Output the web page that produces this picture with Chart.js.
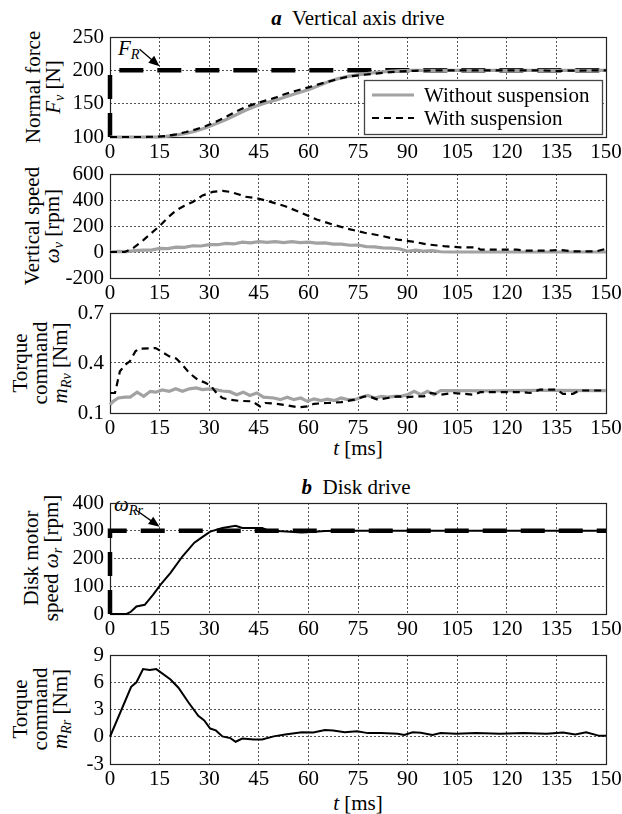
<!DOCTYPE html>
<html>
<head>
<meta charset="utf-8">
<script src="https://cdn.jsdelivr.net/npm/chart.js@4.4.1/dist/chart.umd.min.js"></script>
<style>
  body { margin: 0; background: #fff; }
  #fig { position: relative; width: 622px; height: 814px; font-family: 'Liberation Serif', 'Times New Roman', serif; color: #000; }
  #fig canvas { position: absolute; left: 0; }
  .lbl { position: absolute; white-space: nowrap; font-size: 21px; line-height: 1; transform: translate(-50%, -50%); }
  .tag { position: absolute; white-space: nowrap; font-size: 21px; line-height: 1; transform: translateY(-50%); font-style: italic; }
  .ylab { position: absolute; white-space: nowrap; font-size: 21px; line-height: 20px; text-align: center; transform: translate(-50%, -50%) rotate(-90deg); }
  sub { font-size: 68%; vertical-align: baseline; position: relative; top: 0.3em; }
</style>
</head>
<body>
<div id="fig">
  <div class="lbl" style="left:358px;top:18px"><b><i>a</i></b>&nbsp; Vertical axis drive</div>
  <div class="lbl" style="left:356px;top:487px"><b><i>b</i></b>&nbsp; Disk drive</div>
  <div class="lbl" style="left:358px;top:448px"><i>t</i> [ms]</div>
  <div class="lbl" style="left:358px;top:803px"><i>t</i> [ms]</div>

  <div class="ylab" style="left:44px;top:87px">Normal force<br><i>F<sub>v</sub></i> [N]</div>
  <div class="ylab" style="left:43px;top:226px">Vertical speed<br><i>ω<sub>v</sub></i> [rpm]</div>
  <div class="ylab" style="left:41px;top:363px">Torque<br>command<br><i>m<sub>Rv</sub></i> [Nm]</div>
  <div class="ylab" style="left:42px;top:558px">Disk motor<br>speed <i>ω<sub>r</sub></i> [rpm]</div>
  <div class="ylab" style="left:41px;top:709px">Torque<br>command<br><i>m<sub>Rr</sub></i> [Nm]</div>

  <div class="tag" style="left:118px;top:48px">F<sub>R</sub></div>
  <div class="tag" style="left:114px;top:504px">ω<sub>Rr</sub></div>
</div>

<script>
// ---- time axis ----
const tMin = 0, tMax = 150, tStep = 15;

// ---- a: normal force [N] ----
const forceRefT = [0, 0, 150];
const forceRef = [100, 200, 200];
const forceWithT = [0, 10, 14, 17, 20, 23, 26, 29, 32, 35, 38, 41, 44, 47, 50, 53, 56, 60, 63, 66, 69, 72, 76, 80, 84, 88, 92, 96, 100, 130, 135, 138, 150];
const forceWith = [100, 100, 100.5, 101.5, 104, 107.5, 111.5, 116.5, 123, 130, 138, 145, 150, 154.5, 159, 164.5, 169, 174.5, 179, 183, 187, 190.5, 193, 195, 197, 198.5, 199.3, 199.7, 200, 200, 199, 199.5, 200];
const forceWithoutT = [0, 14, 17, 20, 23, 26, 29, 32, 35, 38, 41, 44, 47, 50, 53, 56, 60, 63, 66, 69, 72, 76, 80, 84, 88, 92, 150];
const forceWithout = [100, 100, 101, 103, 105.5, 109, 114, 120, 126, 133, 140, 146, 151, 155, 160, 165, 171, 177, 183, 187.5, 191, 194, 196.5, 198.5, 199.5, 200, 200];

// ---- a: vertical speed [rpm] ----
const speedWithT = [0, 4.5, 7, 10, 12.5, 15, 17.5, 20, 22.5, 25, 28, 31, 34, 36.5, 39, 41, 44.5, 48, 53, 58, 62.5, 67.5, 72, 77, 82, 87, 91.5, 96, 101, 106, 111, 112, 118, 123, 126, 132, 136, 140, 147, 150];
const speedWith = [0, 0, 30, 90, 145, 200, 265, 320, 355, 385, 435, 462, 470, 462, 442, 425, 413, 390, 352, 300, 250, 210, 178, 148, 125, 95, 80, 58, 45, 36, 36, 18, 18, 18, 10, 10, 16, 5, 5, 25];
const speedWithoutT = [0, 2.5, 5, 7.5, 10, 12.5, 15, 17.5, 20, 22.5, 25, 27.5, 30, 32.5, 35, 37.5, 40, 42.5, 45, 47.5, 50, 52.5, 55, 57.5, 60, 62.5, 65, 67.5, 70, 72.5, 75, 77.5, 80, 82.5, 85, 87.5, 90, 92.5, 95, 97.5, 100, 103, 150];
const speedWithout = [0, 5, 3, 10, 15, 14, 28, 26, 38, 36, 48, 46, 56, 56, 66, 62, 76, 70, 80, 74, 80, 72, 80, 72, 76, 68, 70, 60, 60, 52, 54, 42, 40, 32, 30, 24, 6, 14, 6, 10, 2, 0, 0];

// ---- a: torque command [Nm] ----
const torqueVWithT = [0, 1.5, 3, 4.6, 6, 7.7, 8.7, 13.8, 15, 17.9, 20, 21.4, 24, 26.5, 29, 30.6, 32, 34, 36, 39, 43, 45.4, 47, 50.5, 53.6, 57, 59.7, 61.7, 65.8, 69.9, 74, 77, 79, 81, 84, 87, 90, 93, 95, 97, 100, 104, 107, 110, 112, 125, 127, 130, 135, 137, 140, 142, 150];
const torqueVWith = [0.22, 0.22, 0.35, 0.39, 0.41, 0.47, 0.486, 0.49, 0.476, 0.44, 0.427, 0.40, 0.34, 0.30, 0.28, 0.26, 0.225, 0.19, 0.18, 0.173, 0.17, 0.14, 0.16, 0.155, 0.146, 0.134, 0.14, 0.155, 0.16, 0.165, 0.18, 0.2, 0.195, 0.18, 0.19, 0.2, 0.195, 0.2, 0.2, 0.22, 0.21, 0.22, 0.215, 0.21, 0.225, 0.225, 0.22, 0.24, 0.24, 0.215, 0.215, 0.235, 0.235];
const torqueVWithoutT = [0, 1, 2.5, 4.6, 6.1, 8.2, 10.2, 12.2, 13.8, 15.8, 17.9, 19.9, 21.9, 24, 26, 28, 30.1, 32, 34, 36.2, 38.3, 40.3, 42.3, 44.4, 46.4, 49.5, 51.5, 53.6, 55.6, 57.7, 59.7, 61.7, 63.8, 65.8, 67.9, 69.9, 71.9, 74, 76, 78, 80, 82, 84, 86, 88, 90, 92, 94, 96, 98, 100, 115, 130, 150];
const torqueVWithout = [0.15, 0.17, 0.19, 0.195, 0.195, 0.225, 0.2, 0.23, 0.225, 0.238, 0.23, 0.245, 0.23, 0.245, 0.25, 0.24, 0.245, 0.24, 0.232, 0.228, 0.21, 0.225, 0.205, 0.22, 0.195, 0.19, 0.18, 0.195, 0.18, 0.19, 0.17, 0.185, 0.175, 0.183, 0.175, 0.19, 0.18, 0.18, 0.195, 0.205, 0.19, 0.2, 0.195, 0.2, 0.2, 0.21, 0.23, 0.21, 0.23, 0.21, 0.235, 0.233, 0.236, 0.234];

// ---- b: disk motor speed [rpm] ----
const diskRefT = [0, 0, 150];
const diskRef = [0, 300, 300];
const diskSpeedT = [0, 5, 6.3, 8, 10.5, 13, 15.3, 18.3, 22, 25.5, 28, 30.3, 34, 38, 40, 46, 48, 52, 58, 62, 65, 70, 150];
const diskSpeed = [0, 0, 8, 27, 33, 69, 106, 148, 209, 257, 278, 297, 310, 318, 310, 310, 300, 298, 294, 296, 299, 300, 300];

// ---- b: torque command [Nm] ----
const torqueRT = [0, 6.4, 8, 10, 12, 14, 18.3, 20.7, 23.7, 26.7, 28.5, 30.3, 32, 34, 36.4, 38, 40, 43.5, 46, 49.5, 53, 58, 61.5, 65, 67.5, 71, 74.7, 78, 82, 87, 89, 91.5, 94, 97.5, 100, 104.7, 110.7, 118, 125, 132, 137, 140.7, 144, 148, 150];
const torqueR = [0, 5.5, 6.0, 7.45, 7.35, 7.45, 6.3, 5.4, 3.8, 2.3, 1.8, 0.9, 0.7, 0.04, -0.15, -0.55, -0.2, -0.3, -0.3, 0.04, 0.25, 0.5, 0.47, 0.75, 0.7, 0.5, 0.6, 0.4, 0.4, 0.33, 0.2, 0.5, 0.45, 0.2, 0.4, 0.33, 0.4, 0.33, 0.4, 0.33, 0.47, 0.25, 0.5, 0.1, 0.1];

const legendLabels = ['Without suspension', 'With suspension'];

const FONT = '"Liberation Serif", "Times New Roman", serif';
const GRAY = '#a2a2a2';

function pts(t, v) {
  return t.map((x, i) => ({ x, y: v[i] }));
}

function dashed(t, v) {
  return { data: pts(t, v), borderColor: '#000', borderWidth: 2.2, borderDash: [7, 5] };
}
function solidGray(t, v) {
  return { data: pts(t, v), borderColor: GRAY, borderWidth: 3.2 };
}
function solidBlack(t, v) {
  return { data: pts(t, v), borderColor: '#000', borderWidth: 2 };
}
function reference(t, v) {
  return { data: pts(t, v), borderColor: '#000', borderWidth: 4.5, borderDash: [24, 14] };
}

// box round the plot area
const frame = {
  id: 'frame',
  beforeDatasetsDraw(chart) {
    const a = chart.chartArea, ctx = chart.ctx;
    ctx.save();
    ctx.strokeStyle = '#222';
    ctx.lineWidth = 1.2;
    ctx.strokeRect(Math.round(a.left) + 0.5, Math.round(a.top) + 0.5,
      Math.round(a.right - a.left), Math.round(a.bottom - a.top));
    ctx.restore();
  }
};

// arrow pointing at the reference line
const pointer = {
  id: 'pointer',
  afterDatasetsDraw(chart, args, opts) {
    if (!opts || opts.x === undefined) return;
    const { x: xs, y: ys } = chart.scales;
    const tx = xs.getPixelForValue(opts.x), ty = ys.getPixelForValue(opts.y) - 4;
    const sx = tx - opts.dx, sy = ty - opts.dy;
    const ang = Math.atan2(ty - sy, tx - sx);
    const ctx = chart.ctx;
    ctx.save();
    ctx.strokeStyle = '#000';
    ctx.fillStyle = '#000';
    ctx.lineWidth = 1.3;
    ctx.beginPath();
    ctx.moveTo(sx, sy);
    ctx.lineTo(tx - 8 * Math.cos(ang), ty - 8 * Math.sin(ang));
    ctx.stroke();
    ctx.beginPath();
    ctx.moveTo(tx, ty);
    ctx.lineTo(tx - 11 * Math.cos(ang) + 4.5 * Math.sin(ang), ty - 11 * Math.sin(ang) - 4.5 * Math.cos(ang));
    ctx.lineTo(tx - 11 * Math.cos(ang) - 4.5 * Math.sin(ang), ty - 11 * Math.sin(ang) + 4.5 * Math.cos(ang));
    ctx.closePath();
    ctx.fill();
    ctx.restore();
  }
};

// boxed legend in the lower right corner of the plot
const boxLegend = {
  id: 'boxLegend',
  afterDatasetsDraw(chart, args, opts) {
    if (!opts || !opts.show) return;
    const a = chart.chartArea, ctx = chart.ctx;
    const w = 238, h = 54;
    const left = a.right - 4 - w, top = a.bottom - 3 - h;
    ctx.save();
    ctx.fillStyle = '#fff';
    ctx.fillRect(left, top, w, h);
    ctx.strokeStyle = '#444';
    ctx.lineWidth = 1.3;
    ctx.strokeRect(Math.round(left) + 0.5, Math.round(top) + 0.5, w, h);
    const rows = [
      { y: top + 15, color: GRAY, width: 3.2, dash: [] },
      { y: top + 38, color: '#000', width: 2.2, dash: [7, 5] }
    ];
    ctx.font = '21px ' + FONT;
    ctx.textBaseline = 'middle';
    ctx.textAlign = 'left';
    rows.forEach((r, i) => {
      ctx.beginPath();
      ctx.setLineDash(r.dash);
      ctx.strokeStyle = r.color;
      ctx.lineWidth = r.width;
      ctx.moveTo(left + 8, r.y);
      ctx.lineTo(left + 50, r.y);
      ctx.stroke();
      ctx.setLineDash([]);
      ctx.fillStyle = '#000';
      ctx.fillText(legendLabels[i], left + 60, r.y + 1);
    });
    ctx.restore();
  }
};

function makePanel(cfg) {
  const padTop = 12, axisH = 32;
  const canvas = document.createElement('canvas');
  canvas.width = 622;
  canvas.height = padTop + cfg.plotH + axisH;
  canvas.style.top = (cfg.top - padTop) + 'px';
  document.getElementById('fig').appendChild(canvas);

  const tickFont = { family: FONT, size: 21 };
  const gridOpts = { color: '#555', lineWidth: 1, drawTicks: false };
  const borderOpts = { display: false, dash: [2, 2] };

  return new Chart(canvas.getContext('2d'), {
    type: 'line',
    data: { datasets: cfg.datasets.map(d => Object.assign({ pointRadius: 0, tension: 0, fill: false, clip: false }, d)) },
    options: {
      responsive: false,
      animation: false,
      devicePixelRatio: 1,
      events: [],
      layout: { autoPadding: false, padding: { top: padTop, right: 16, left: 0, bottom: 0 } },
      plugins: {
        legend: { display: false },
        tooltip: { enabled: false },
        pointer: cfg.pointer || {},
        boxLegend: { show: !!cfg.legend }
      },
      scales: {
        x: {
          type: 'linear', min: tMin, max: tMax,
          grid: gridOpts, border: borderOpts,
          ticks: { stepSize: tStep, autoSkip: false, maxRotation: 0, color: '#000', font: tickFont, padding: 3 },
          afterFit(s) { s.height = axisH; s.paddingLeft = 0; s.paddingRight = 0; }
        },
        y: {
          min: cfg.yMin, max: cfg.yMax,
          grid: gridOpts, border: borderOpts,
          ticks: {
            stepSize: cfg.yStep, autoSkip: false, color: '#000', font: tickFont, padding: 6,
            callback: v => cfg.decimals ? v.toFixed(cfg.decimals) : String(Math.round(v))
          },
          afterFit(s) { s.width = 110; s.paddingTop = 0; s.paddingBottom = 0; }
        }
      }
    },
    plugins: [frame, pointer, boxLegend]
  });
}

function drawAll() {
  makePanel({
    top: 37, plotH: 100, yMin: 100, yMax: 250, yStep: 50, legend: true,
    pointer: { x: 15, y: 200, dx: 20, dy: 17 },
    datasets: [dashed(forceWithT, forceWith), solidGray(forceWithoutT, forceWithout), reference(forceRefT, forceRef)]
  });
  makePanel({
    top: 174, plotH: 104, yMin: -200, yMax: 600, yStep: 200,
    datasets: [dashed(speedWithT, speedWith), solidGray(speedWithoutT, speedWithout)]
  });
  makePanel({
    top: 313, plotH: 100, yMin: 0.1, yMax: 0.7, yStep: 0.3, decimals: 1,
    datasets: [dashed(torqueVWithT, torqueVWith), solidGray(torqueVWithoutT, torqueVWithout)]
  });
  makePanel({
    top: 503, plotH: 111, yMin: 0, yMax: 400, yStep: 100,
    pointer: { x: 15, y: 300, dx: 24, dy: 17 },
    datasets: [solidBlack(diskSpeedT, diskSpeed), reference(diskRefT, diskRef)]
  });
  makePanel({
    top: 655, plotH: 109, yMin: -3, yMax: 9, yStep: 3,
    datasets: [solidBlack(torqueRT, torqueR)]
  });
}

// canvas text needs the serif face loaded before the first draw
document.fonts.load('21px "Liberation Serif"').then(drawAll, drawAll);
</script>
</body>
</html>
